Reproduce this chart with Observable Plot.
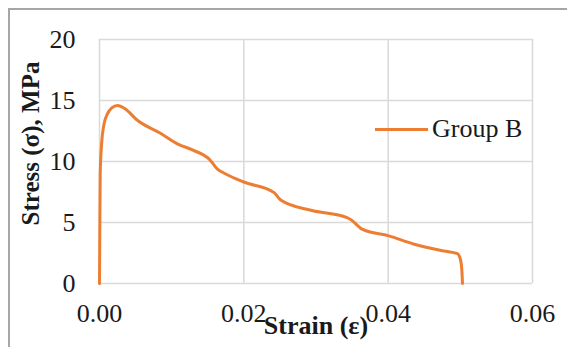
<!DOCTYPE html>
<html><head><meta charset="utf-8">
<script src="https://cdn.jsdelivr.net/npm/d3@7"></script>
<script src="https://cdn.jsdelivr.net/npm/@observablehq/plot@0.6"></script>
<style>
html,body{margin:0;padding:0;background:#fff;width:567px;height:347px;overflow:hidden;}
#wrap{position:relative;width:567px;height:347px;}
#frame{position:absolute;left:8px;top:8px;width:600px;height:400px;border-top:2px solid #a6a6a6;border-left:2px solid #a6a6a6;box-sizing:border-box;}
#legend{position:absolute;left:375px;top:114px;font-family:"Liberation Serif",serif;font-size:26px;color:#1a1a1a;display:flex;align-items:center;white-space:nowrap;}
#legend .sw{width:53px;height:3px;background:#ED7D31;margin-right:4px;}
svg{position:absolute;left:0;top:0;}
</style></head>
<body><div id="wrap"><div id="frame"></div><div id="chart"></div>
<div id="legend"><span class="sw"></span><span>Group B</span></div></div>
<script>
const strain = [0, 0.00005, 0.0001, 0.0003, 0.0006, 0.0011, 0.0017, 0.0025, 0.0035, 0.0052, 0.0085, 0.0108, 0.0131, 0.0149, 0.0152, 0.0163, 0.0175, 0.0201, 0.0242, 0.0247, 0.0251, 0.0293, 0.0343, 0.0349, 0.0364, 0.0401, 0.0436, 0.0477, 0.0496, 0.0500, 0.0502, 0.0503];
const stress = [0, 5.0, 9.0, 11.5, 13.0, 13.9, 14.4, 14.6, 14.35, 13.4, 12.3, 11.45, 10.9, 10.35, 10.2, 9.4, 8.98, 8.3, 7.45, 7.1, 6.85, 6.0, 5.4, 5.2, 4.45, 3.9, 3.22, 2.67, 2.45, 2.0, 1.2, 0];
const xTicks = [0, 0.02, 0.04, 0.06];
const yTicks = [0, 5, 10, 15, 20];
const seriesName = "Group B";
const data = strain.map((x, i) => ({x, y: stress[i]}));
const font = "Liberation Serif, Times New Roman, serif";
const chart = Plot.plot({
  width: 567, height: 347,
  marginLeft: 99, marginRight: 35, marginTop: 39, marginBottom: 64,
  style: {fontFamily: font, fontSize: "26px", color: "#1a1a1a", background: "transparent"},
  x: {domain: [0, 0.06], ticks: xTicks, tickFormat: d3.format(".2f"), label: null},
  y: {domain: [0, 20], ticks: yTicks, label: null},
  marks: [
    Plot.gridX(xTicks, {stroke: "#d9d9d9", strokeOpacity: 1, strokeWidth: 1.5}),
    Plot.gridY(yTicks, {stroke: "#d9d9d9", strokeOpacity: 1, strokeWidth: 1.5}),
    Plot.axisX(xTicks, {tickSize: 0, tickPadding: 20, tickFormat: d3.format(".2f"), fontSize: 26}),
    Plot.axisY(yTicks, {tickSize: 0, tickPadding: 24, fontSize: 26}),
    Plot.line(data, {x: "x", y: "y", stroke: "#ED7D31", strokeWidth: 3, curve: "monotone-x"}),
    Plot.text(["Strain (ε)"], {frameAnchor: "bottom", dy: 50, fontWeight: "bold", fontSize: 26, fill: "#1a1a1a"}),
    Plot.text([seriesName].map(() => "Stress (σ), MPa"), {frameAnchor: "left", textAnchor: "middle", dx: -69, dy: -18, rotate: -90, fontWeight: "bold", fontSize: 25, fill: "#1a1a1a"})
  ]
});
document.getElementById("chart").appendChild(chart);
</script></body></html>
